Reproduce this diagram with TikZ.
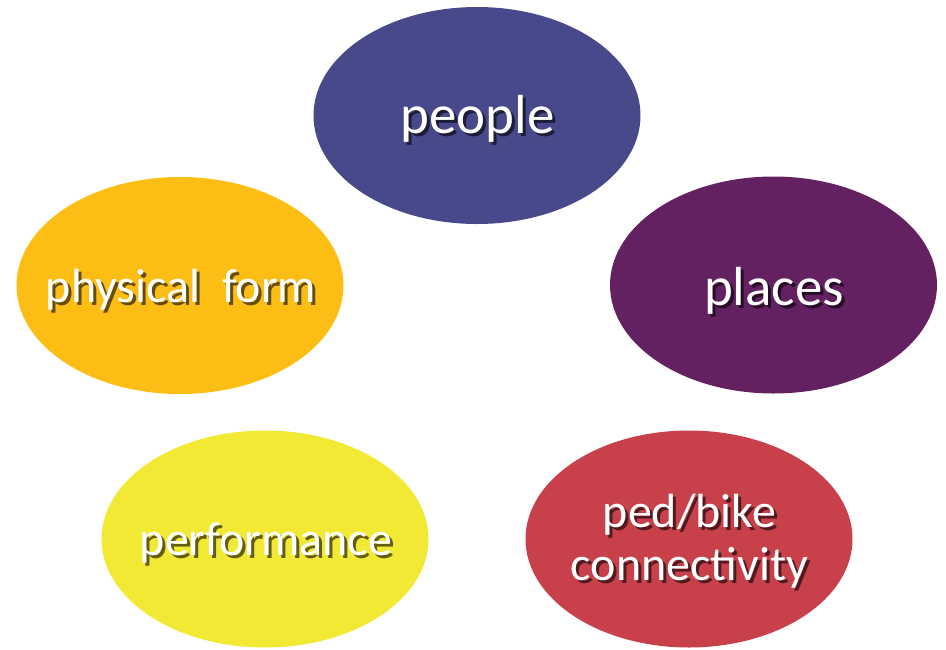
\documentclass[tikz,border=0pt]{standalone}
\usepackage{fontspec}
\setmainfont{Carlito}
\usetikzlibrary{shapes.geometric}
\definecolor{cpeople}{RGB}{72,73,138}
\definecolor{cform}{RGB}{252,190,20}
\definecolor{cplaces}{RGB}{99,33,98}
\definecolor{cperf}{RGB}{242,233,53}
\definecolor{cped}{RGB}{200,65,74}
\newcommand\shd[2]{\rlap{\kern3pt\raisebox{-3pt}{\textcolor{black!60!#1}{#2}}}#2}
\tikzset{
  blob/.style={ellipse, inner sep=0pt, minimum width=327pt, minimum height=217pt, draw=none},
  bigtxt/.style={text=white, font=\fontsize{55}{55}\selectfont, inner sep=0pt, anchor=base},
  midtxt/.style={text=white, font=\fontsize{48}{53}\selectfont, inner sep=0pt, anchor=base, align=center},
}
\begin{document}
\begin{tikzpicture}[x=1pt,y=-1pt]
\useasboundingbox (0,0) rectangle (946,649);
\node[blob, fill=cpeople] (people) at (477,115.5) {};
\node[blob, fill=cform]   (form)   at (180,285.5) {};
\node[blob, fill=cplaces] (places) at (773.5,285) {};
\node[blob, fill=cperf]   (perf)   at (265,539) {};
\node[blob, fill=cped]    (ped)    at (689,539) {};
\node[bigtxt] (peopleT) at (477.5,133) {\shd{cpeople}{people}};
\node[midtxt] (formT)   at (181,302) {\shd{cform}{physical\ \ form}};
\node[bigtxt] (placesT) at (774,305) {\shd{cplaces}{places}};
\node[midtxt] (perfT)   at (266,555) {\shd{cperf}{performance}};
\node[midtxt] (pedT)    at (689.5,580) {\shd{cped}{ped/bike}\\\shd{cped}{connectivity}};
\end{tikzpicture}
\end{document}
